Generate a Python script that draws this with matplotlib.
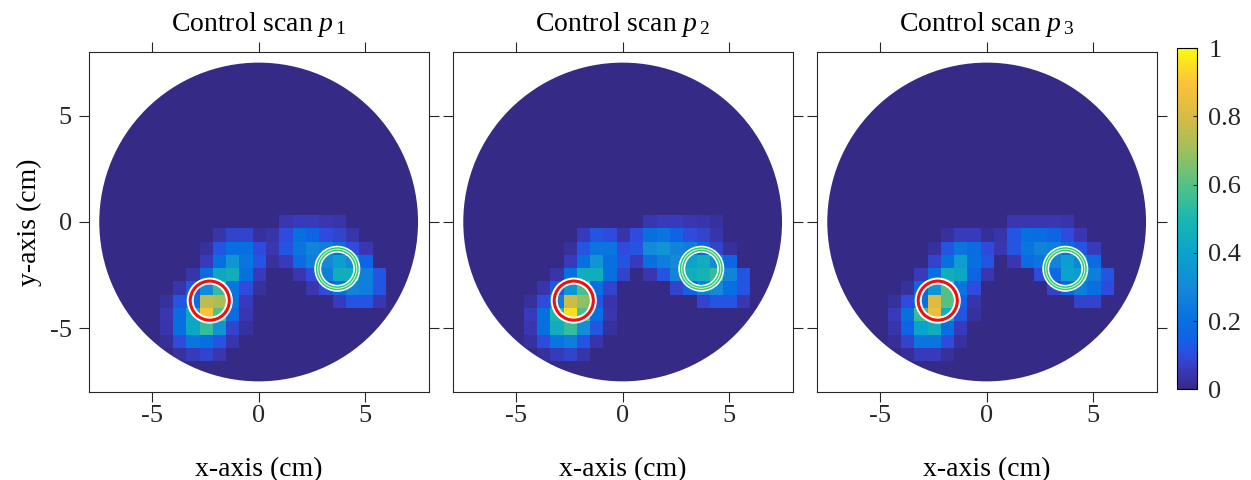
import numpy as np
import matplotlib
matplotlib.use("Agg")
import matplotlib.pyplot as plt
from matplotlib.colors import LinearSegmentedColormap
from matplotlib.patches import Circle

plt.rcParams['font.family'] = 'Liberation Serif'
plt.rcParams['mathtext.fontset'] = 'custom'
plt.rcParams['mathtext.rm'] = 'Liberation Serif'
plt.rcParams['mathtext.it'] = 'Liberation Serif:italic'
plt.rcParams['axes.unicode_minus'] = False

# panel titles
titles = [r'Control scan $p_{\,\mathit{1}}$', r'Control scan $p_{\,\mathit{2}}$', r'Control scan $p_{\,\mathit{3}}$']

# image values (percent), rows y = 0 .. -10 cells, cols x = -7 .. 9 cells (cell = 0.625 cm)
scan_p1 = [
    [0, 0, 0, 0, 0, 0, 0, 0, 0, 5, 6, 6, 5, 4, 0, 0, 0],
    [0, 0, 0, 0, 4, 8, 8, 3, 4, 10, 20, 15, 10, 8, 4, 0, 0],
    [0, 0, 0, 3, 12, 20, 20, 10, 5, 12, 22, 28, 25, 20, 10, 5, 0],
    [0, 0, 0, 6, 20, 35, 22, 12, 3, 6, 18, 25, 30, 38, 30, 15, 0],
    [0, 0, 4, 18, 42, 45, 20, 6, 0, 0, 5, 10, 25, 45, 45, 25, 12],
    [0, 4, 12, 30, 55, 22, 10, 3, 0, 0, 0, 5, 10, 20, 28, 25, 12],
    [3, 12, 18, 75, 72, 22, 6, 0, 0, 0, 0, 0, 0, 6, 12, 12, 5],
    [5, 18, 42, 90, 60, 18, 5, 0, 0, 0, 0, 0, 0, 0, 0, 0, 0],
    [4, 20, 42, 55, 35, 8, 3, 0, 0, 0, 0, 0, 0, 0, 0, 0, 0],
    [2, 10, 22, 20, 12, 4, 0, 0, 0, 0, 0, 0, 0, 0, 0, 0, 0],
    [0, 3, 6, 8, 5, 0, 0, 0, 0, 0, 0, 0, 0, 0, 0, 0, 0],
]
scan_p2 = [
    [0, 0, 0, 0, 0, 0, 0, 0, 0, 5, 6, 6, 5, 4, 3, 0, 0],
    [0, 0, 0, 0, 6, 12, 10, 4, 10, 20, 22, 15, 10, 8, 4, 0, 0],
    [0, 0, 0, 3, 12, 22, 22, 10, 12, 30, 35, 28, 25, 15, 8, 3, 0],
    [0, 0, 0, 6, 20, 35, 20, 12, 6, 20, 25, 30, 40, 45, 30, 15, 0],
    [0, 0, 4, 20, 45, 45, 20, 8, 0, 5, 12, 28, 45, 48, 55, 28, 12],
    [0, 4, 12, 35, 58, 20, 8, 0, 0, 0, 0, 8, 15, 25, 30, 20, 12],
    [3, 10, 25, 78, 68, 12, 4, 0, 0, 0, 0, 0, 0, 8, 12, 12, 5],
    [6, 20, 50, 95, 58, 20, 5, 0, 0, 0, 0, 0, 0, 0, 0, 0, 0],
    [5, 20, 45, 55, 32, 12, 3, 0, 0, 0, 0, 0, 0, 0, 0, 0, 0],
    [3, 10, 22, 25, 12, 4, 0, 0, 0, 0, 0, 0, 0, 0, 0, 0, 0],
    [0, 3, 6, 8, 4, 0, 0, 0, 0, 0, 0, 0, 0, 0, 0, 0, 0],
]
scan_p3 = [
    [0, 0, 0, 0, 0, 0, 0, 0, 0, 5, 5, 5, 5, 4, 0, 0, 0],
    [0, 0, 0, 0, 3, 6, 6, 2, 4, 12, 20, 18, 15, 10, 5, 0, 0],
    [0, 0, 0, 3, 12, 22, 18, 10, 5, 12, 22, 28, 25, 20, 12, 6, 0],
    [0, 0, 0, 8, 20, 38, 20, 12, 0, 5, 18, 22, 28, 38, 28, 18, 0],
    [0, 0, 6, 20, 45, 42, 15, 5, 0, 0, 0, 10, 18, 40, 38, 25, 12],
    [0, 3, 15, 35, 60, 22, 10, 0, 0, 0, 0, 0, 8, 15, 25, 20, 10],
    [3, 10, 20, 82, 60, 15, 4, 0, 0, 0, 0, 0, 0, 0, 8, 8, 0],
    [6, 20, 55, 85, 45, 12, 3, 0, 0, 0, 0, 0, 0, 0, 0, 0, 0],
    [4, 15, 40, 45, 20, 6, 0, 0, 0, 0, 0, 0, 0, 0, 0, 0, 0],
    [2, 8, 22, 22, 10, 3, 0, 0, 0, 0, 0, 0, 0, 0, 0, 0, 0],
    [0, 2, 6, 6, 3, 0, 0, 0, 0, 0, 0, 0, 0, 0, 0, 0, 0],
]
scans = [scan_p1, scan_p2, scan_p3]

# target markers (cm)
target_red = (-2.3, -3.7)
target_green = (3.7, -2.2)
target_radius = 0.92
disk_radius = 7.5

# parula-like colormap
parula = LinearSegmentedColormap.from_list('parula', [
    (0.00, (0.208, 0.166, 0.529)),
    (0.05, (0.225, 0.215, 0.700)),
    (0.10, (0.180, 0.300, 0.880)),
    (0.15, (0.060, 0.390, 0.900)),
    (0.20, (0.030, 0.440, 0.880)),
    (0.30, (0.080, 0.540, 0.850)),
    (0.40, (0.040, 0.640, 0.800)),
    (0.50, (0.100, 0.720, 0.690)),
    (0.60, (0.330, 0.760, 0.520)),
    (0.70, (0.620, 0.750, 0.360)),
    (0.80, (0.850, 0.730, 0.270)),
    (0.90, (0.990, 0.760, 0.220)),
    (1.00, (0.976, 0.983, 0.054)),
])

cell = 0.625
n = 25
half = n * cell / 2

fig = plt.figure(figsize=(12.51, 4.8), dpi=100)
W, H = 1251, 480

for k, (scan, title) in enumerate(zip(scans, titles)):
    left = 87.3 + 364 * k
    ax = fig.add_axes([left / W, (480 - 392) / H, 342.7 / W, 340 / H])

    grid = np.zeros((n, n))
    grid[2:13, 5:22] = np.flipud(np.array(scan, dtype=float)) / 100.0

    im = ax.imshow(grid, origin='lower', extent=(-half, half, -half, half),
                   cmap=parula, vmin=0, vmax=1, interpolation='nearest')
    clip = Circle((0, 0), disk_radius, transform=ax.transData)
    im.set_clip_path(clip)

    # red target
    ax.add_patch(Circle(target_red, target_radius, fill=False, ec='white', lw=5.0, zorder=3))
    ax.add_patch(Circle(target_red, target_radius, fill=False, ec='#ee1111', lw=2.2, zorder=4))
    # green target
    ax.add_patch(Circle(target_green, target_radius, fill=False, ec='white', lw=5.0, zorder=3))
    ax.add_patch(Circle(target_green, target_radius, fill=False, ec='#2ecc71', lw=2.8, zorder=4))
    ax.add_patch(Circle(target_green, target_radius, fill=False, ec='#dff5e7', lw=0.7, zorder=5))

    ax.set_xlim(-8, 8)
    ax.set_ylim(-8, 8)
    ax.set_xticks([-5, 0, 5])
    ax.set_yticks([-5, 0, 5])
    ax.tick_params(direction='out', length=7, width=0.8, top=True, right=True,
                   labelsize=19, colors='#262626')
    ax.tick_params(axis='x', pad=2)
    ax.tick_params(axis='y', pad=5)
    for s in ax.spines.values():
        s.set_linewidth(0.8)
        s.set_color('#262626')
    if k > 0:
        ax.tick_params(labelleft=False)
    else:
        ax.set_ylabel('y-axis (cm)', fontsize=20, labelpad=6)
    ax.set_xlabel('x-axis (cm)', fontsize=20, labelpad=22)
    ax.set_title(title, fontsize=20, pad=15)

cax = fig.add_axes([1177.3 / W, (480 - 389.3) / H, 20 / W, 341 / H])
cb = fig.colorbar(im, cax=cax, ticks=[0, 0.2, 0.4, 0.6, 0.8, 1])
cb.set_ticklabels(['0', '0.2', '0.4', '0.6', '0.8', '1'])
cb.ax.tick_params(direction='in', length=3, width=0.8, labelsize=19, colors='#262626', pad=8)
cb.outline.set_linewidth(0.8)

fig.savefig('out.png', dpi=100)
